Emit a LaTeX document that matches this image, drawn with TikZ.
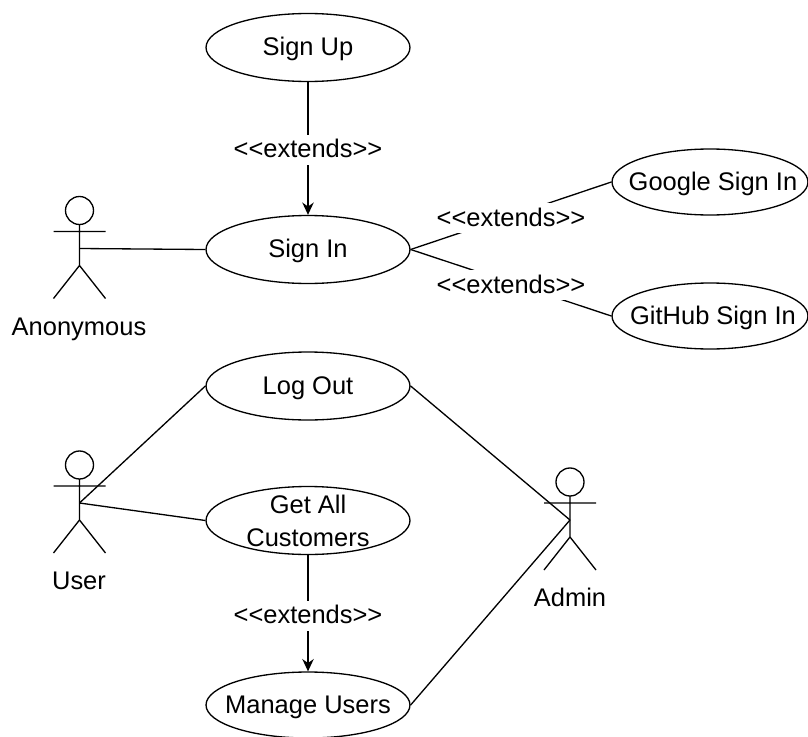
\documentclass[tikz,border=0pt]{standalone}
\usepackage{fontspec}
\setmainfont{Liberation Sans}
\usetikzlibrary{shapes.geometric,arrows.meta}
\tikzset{x=0.02cm,y=-0.02cm,
 usecase/.style={draw=black,line width=0.75pt,ellipse,fill=white,inner sep=-30pt,minimum width=4.08cm,minimum height=1.36cm,align=center,text height=12.2pt,text depth=3pt,font=\fontsize{14.5pt}{18.8pt}\selectfont},
 lbl/.style={fill=white,inner sep=1pt,yshift=-0.05cm,text height=12.2pt,text depth=3pt,font=\fontsize{14.5pt}{16.5pt}\selectfont},
 txt/.style={inner sep=0pt,text height=12.2pt,text depth=3pt,font=\fontsize{14.5pt}{16.5pt}\selectfont},
 conn/.style={draw=black,line width=0.75pt},
 arr/.style={conn,-{Stealth[length=7pt,width=6.5pt]}}}
\newcommand{\actor}[3]{%
 \draw[conn] (#1,#2) circle[radius=14];
 \draw[conn] (#1,#2+14) -- (#1,#2+55) -- (#1-26,#2+88) (#1,#2+55) -- (#1+26,#2+88) (#1-26,#2+21) -- (#1+26,#2+21);
 \coordinate (#3) at (#1,#2+38);
}
\begin{document}
\begin{tikzpicture}
\useasboundingbox (0,0) rectangle (808,737);
\node[usecase] (signup) at (308,47.5) {Sign Up};
\node[usecase] (signin) at (308,249.5) {Sign In};
\node[usecase,minimum width=3.92cm,minimum height=1.32cm] (google) at (710,182) {\hspace*{3.4pt}Google Sign In};
\node[usecase,minimum width=3.92cm,minimum height=1.32cm] (github) at (710,316) {\hspace*{3.4pt}GitHub Sign In};
\node[usecase] (logout) at (308,386) {Log Out};
\node[usecase,text height=,text depth=] (getall) at (308,520.5) {Get All\\Customers};
\node[usecase,minimum height=1.32cm,text height=13.2pt] (manage) at (308,705) {Manage Users};
\actor{79.5}{210.5}{anon}
\actor{79.5}{465}{user}
\actor{570}{482}{admin}
\node[txt] (anonl) at (79,327.5) {Anonymous};
\node[txt] (userl) at (79,581) {User};
\node[txt] (adminl) at (570,598) {Admin};
\draw[arr] (signup) -- node[lbl,pos=.49]{<{}<extends>{}>} (signin);
\draw[conn] (anon) -- (signin.west);
\draw[conn] (signin.east) -- node[lbl,pos=.5]{<{}<extends>{}>} (google.west);
\draw[conn] (signin.east) -- node[lbl,pos=.5]{<{}<extends>{}>} (github.west);
\draw[conn] (user) -- (logout.west);
\draw[conn] (user) -- (getall.west);
\draw[conn] (logout.east) -- (admin);
\draw[conn] (manage.east) -- (admin);
\draw[arr] (getall) -- node[lbl,pos=.5]{<{}<extends>{}>} (manage);
\end{tikzpicture}
\end{document}
